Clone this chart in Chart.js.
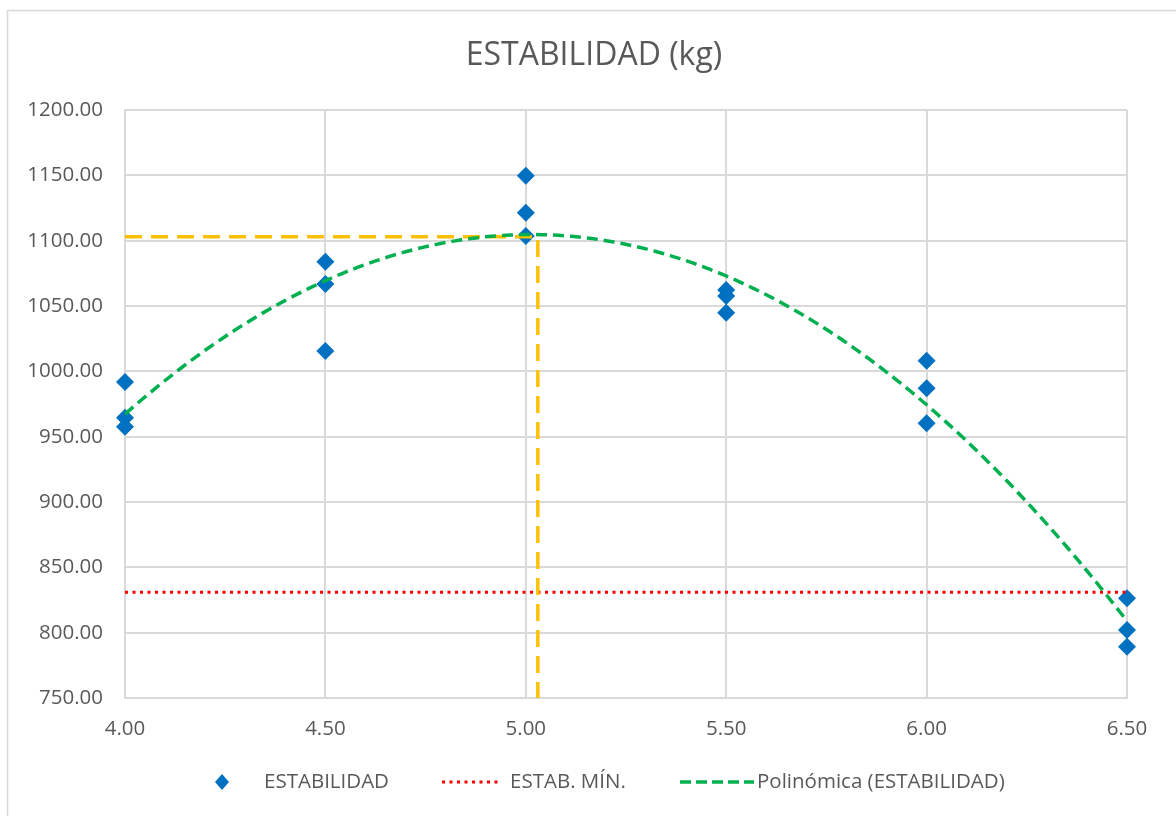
<!DOCTYPE html>
<html>
<head>
<meta charset="utf-8">
<script src="https://cdn.jsdelivr.net/npm/chart.js@4/dist/chart.umd.min.js"></script>
<style>
  html, body { margin: 0; padding: 0; background: #ffffff; }
  #wrap { position: relative; width: 1176px; height: 816px; }
</style>
</head>
<body>
<div id="wrap"><canvas id="c" width="1176" height="816"></canvas></div>
<script>
// Contenido asfáltico (%) de cada briqueta y su estabilidad (kg)
const contenido = [4.0, 4.0, 4.0, 4.5, 4.5, 4.5, 5.0, 5.0, 5.0, 5.5, 5.5, 5.5, 6.0, 6.0, 6.0, 6.5, 6.5, 6.5];
const estabilidad = [991.8, 964.5, 957.6, 1083.9, 1066.8, 1015.6, 1149.7, 1121.4, 1103.6, 1062.2, 1057.6, 1044.9, 1008.1, 987.0, 960.2, 826.3, 802.0, 789.3];

// Estabilidad mínima exigida
const estabMin = 831;
const estabMinX = [4.0, 6.5];

// Lectura del óptimo sobre la curva (líneas de referencia)
const optimoX = [4.0, 5.03, 5.03];
const optimoY = [1103, 1103, 750];

// Ejes
const xTicks = [4.0, 4.5, 5.0, 5.5, 6.0, 6.5];
const yMin = 750, yMax = 1200, yStep = 50;

// Ajuste polinómico de grado 2 por mínimos cuadrados
function ajustePolinomico(xs, ys) {
  const n = xs.length;
  let s = [0, 0, 0, 0, 0], t = [0, 0, 0];
  for (let i = 0; i < n; i++) {
    let p = 1;
    for (let k = 0; k <= 4; k++) { s[k] += p; if (k <= 2) t[k] += p * ys[i]; p *= xs[i]; }
  }
  const A = [[s[0], s[1], s[2]], [s[1], s[2], s[3]], [s[2], s[3], s[4]]];
  const b = t.slice();
  for (let i = 0; i < 3; i++) {
    for (let j = i + 1; j < 3; j++) {
      const f = A[j][i] / A[i][i];
      for (let k = i; k < 3; k++) A[j][k] -= f * A[i][k];
      b[j] -= f * b[i];
    }
  }
  const c = [0, 0, 0];
  for (let i = 2; i >= 0; i--) {
    let v = b[i];
    for (let k = i + 1; k < 3; k++) v -= A[i][k] * c[k];
    c[i] = v / A[i][i];
  }
  return c;
}
const coef = ajustePolinomico(contenido, estabilidad);
const curva = [];
for (let i = 0; i <= 125; i++) {
  const x = 4.0 + i * 0.02;
  curva.push({ x: x, y: coef[0] + coef[1] * x + coef[2] * x * x });
}

const puntos = contenido.map((x, i) => ({ x: x, y: estabilidad[i] }));
const lineaMin = estabMinX.map(x => ({ x: x, y: estabMin }));
const lineaOptimo = optimoX.map((x, i) => ({ x: x, y: optimoY[i] }));

const FONT = "'Open Sans', 'Noto Sans', sans-serif";
const GRIS = '#595959';

// Marco, título y leyenda
const decor = {
  id: 'decor',
  beforeDraw(chart) {
    const ctx = chart.ctx;
    ctx.save();
    ctx.fillStyle = '#ffffff';
    ctx.fillRect(0, 0, chart.width, chart.height);
    ctx.strokeStyle = '#d9d9d9';
    ctx.lineWidth = 1.5;
    ctx.strokeRect(7.5, 10.5, 1300, 1000);
    ctx.restore();
  },
  afterDraw(chart) {
    const ctx = chart.ctx;
    ctx.save();
    ctx.fillStyle = GRIS;
    ctx.textBaseline = 'middle';
    ctx.textAlign = 'center';
    ctx.font = "32px " + FONT;
    ctx.fillText('ESTABILIDAD (kg)', 594, 56);

    const ly = 782;
    ctx.font = "20.5px " + FONT;
    ctx.textAlign = 'left';
    // rombo
    ctx.fillStyle = '#0070C0';
    ctx.beginPath();
    ctx.moveTo(222, ly - 8); ctx.lineTo(229, ly); ctx.lineTo(222, ly + 8); ctx.lineTo(215, ly);
    ctx.closePath(); ctx.fill();
    ctx.fillStyle = GRIS;
    ctx.fillText('ESTABILIDAD', 264, ly);
    // punteada roja
    ctx.strokeStyle = '#FF0000';
    ctx.lineWidth = 3;
    ctx.setLineDash([3, 4.5]);
    ctx.beginPath(); ctx.moveTo(442, ly); ctx.lineTo(502, ly); ctx.stroke();
    ctx.fillText('ESTAB. MÍN.', 510, ly);
    // discontinua verde
    ctx.strokeStyle = '#00B050';
    ctx.lineWidth = 3.5;
    ctx.setLineDash([11, 5]);
    ctx.beginPath(); ctx.moveTo(680, ly); ctx.lineTo(754, ly); ctx.stroke();
    ctx.setLineDash([]);
    ctx.fillText('Polinómica (ESTABILIDAD)', 757, ly);
    ctx.restore();
  }
};

new Chart(document.getElementById('c'), {
  type: 'scatter',
  data: {
    datasets: [
      {
        label: 'ESTABILIDAD',
        data: puntos,
        pointStyle: 'rectRot',
        pointRadius: 9,
        pointHoverRadius: 9,
        backgroundColor: '#0070C0',
        borderColor: '#0070C0',
        borderWidth: 0,
        clip: false,
        order: 4
      },
      {
        label: 'ESTAB. MÍN.',
        type: 'line',
        data: lineaMin,
        borderColor: '#FF0000',
        borderWidth: 3,
        borderDash: [3, 4.5],
        pointRadius: 0,
        fill: false,
        order: 3
      },
      {
        label: 'Óptimo',
        type: 'line',
        data: lineaOptimo,
        borderColor: '#FFC000',
        borderWidth: 3.5,
        borderDash: [17, 9],
        pointRadius: 0,
        fill: false,
        order: 2
      },
      {
        label: 'Polinómica (ESTABILIDAD)',
        type: 'line',
        data: curva,
        borderColor: '#00B050',
        borderWidth: 3.5,
        borderDash: [11, 6],
        pointRadius: 0,
        tension: 0,
        fill: false,
        order: 1
      }
    ]
  },
  options: {
    responsive: false,
    animation: false,
    events: [],
    layout: { padding: { top: 110, left: 0, right: 49, bottom: 78 } },
    plugins: {
      legend: { display: false },
      title: { display: false },
      tooltip: { enabled: false }
    },
    scales: {
      x: {
        type: 'linear',
        min: 4, max: 6.5,
        afterBuildTicks(scale) { scale.ticks = xTicks.map(v => ({ value: v })); },
        afterFit(scale) { scale.height = 40; },
        grid: { color: '#d9d9d9', lineWidth: 2, drawTicks: false },
        border: { color: '#d9d9d9', width: 2 },
        ticks: {
          color: GRIS,
          font: { family: FONT, size: 20.5 },
          padding: 19,
          maxRotation: 0,
          callback: v => Number(v).toFixed(2)
        }
      },
      y: {
        type: 'linear',
        min: yMin, max: yMax,
        afterFit(scale) { scale.width = 125; },
        grid: { color: '#d9d9d9', lineWidth: 2, drawTicks: false },
        border: { color: '#d9d9d9', width: 2 },
        ticks: {
          stepSize: yStep,
          color: GRIS,
          font: { family: FONT, size: 20.5 },
          padding: 22,
          callback: v => Number(v).toFixed(2)
        }
      }
    }
  },
  plugins: [decor]
});
</script>
</body>
</html>
